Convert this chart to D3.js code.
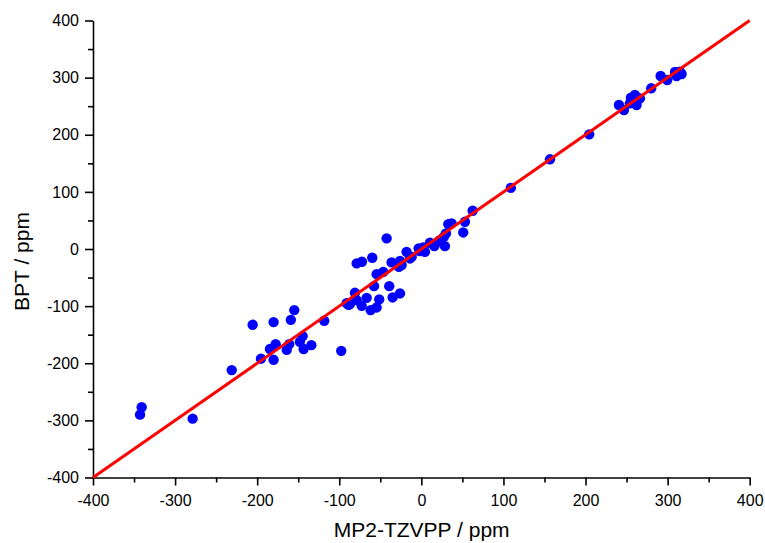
<!DOCTYPE html>
<html>
<head>
<meta charset="utf-8">
<script src="https://cdn.jsdelivr.net/npm/d3@7"></script>
<style>
  body { margin: 0; background: #fff; }
  text { font-family: Arial, "Liberation Sans", sans-serif; }
</style>
</head>
<body>
<svg id="chart" width="765" height="543"></svg>
<script>
// MP2-TZVPP (x) vs BPT (y), ppm
const mp2 = [
  -340.7, -342.7, -278.6, -231, -205.5, -180, -154.8, -159, -118.3, -88.6,
  -195.4, -180, -184.4, -177.5, -164, -161, -148, -144.6, -143.4, -134, -97.6,
  -42.3, -78.8, -72.4, -59.8, -36.2, -26, -18, -27.3, -11.8, -3.3, 2.3, 4.4,
  10.5, 15.7, 20.6, 27.5, 30, 28.7, 32.8, 36.9, 51, 53.1, 62.5,
  -54.5, -46.4, -57.7, -39.1, -80.9, -87, -78.8, -72.7, -66.6, -61.8, -54.5,
  -51.3, -35, -26, -91, -24, -13.8, 22.6, -1.7,
  204.5, 240.7, 246.8, 255.3, 260.2, 262.2, 266.3, 254, 280, 291.5, 299.5,
  310.9, 315, 317, 309, 156.7, 109
];
const bpt = [
  -277, -290, -297, -212, -132.7, -128, -107, -124, -125.7, -97.7,
  -192, -194, -175, -166.6, -176.5, -166.6, -162.5, -152.5, -175, -168.3, -178.3,
  18.6, -25.2, -22.4, -15.4, -23.5, -21, -5, -31.2, -13.7, 1, 2.8, -5,
  10.9, 5, 12.6, 21.4, 27.3, 5, 43.6, 44.8, 29, 47.6, 66.9,
  -44, -40, -65, -65, -76.7, -96.5, -89.5, -99.5, -85.5, -107, -102.3,
  -88.3, -84.8, -77.8, -95, -28, -16.5, 15.6, -3.7,
  200.7, 252, 243.3, 264.8, 269.5, 252, 263.7, 255, 281.3, 302.8, 295.8,
  302.8, 310.3, 306.3, 310, 157, 107
];
const xTicks = [-400, -300, -200, -100, 0, 100, 200, 300, 400];
const yTicks = [-400, -300, -200, -100, 0, 100, 200, 300, 400];
const fitLine = [[-400, -400], [400, 400]];

const points = mp2.map((v, i) => ({ x: v, y: bpt[i] }));

const svg = d3.select("#chart");
const mLeft = 93, mTop = 20.5, w = 656.7, h = 457;

const x = d3.scaleLinear().domain([-400, 400]).range([mLeft, mLeft + w]);
const y = d3.scaleLinear().domain([-400, 400]).range([mTop + h, mTop]);

// minor ticks halfway between majors
const xMinor = d3.range(-350, 400, 100);
const yMinor = d3.range(-350, 400, 100);

svg.append("g").attr("transform", `translate(0,${mTop + h})`)
  .call(d3.axisBottom(x).tickValues(xTicks).tickFormat(d3.format("d")).tickSize(8).tickPadding(9).tickSizeOuter(0));
svg.append("g").attr("transform", `translate(0,${mTop + h})`)
  .call(d3.axisBottom(x).tickValues(xMinor).tickFormat("").tickSize(5).tickSizeOuter(0))
  .select(".domain").remove();

svg.append("g").attr("transform", `translate(${mLeft},0)`)
  .call(d3.axisLeft(y).tickValues(yTicks).tickFormat(d3.format("d")).tickSize(8).tickPadding(6).tickSizeOuter(0));
svg.append("g").attr("transform", `translate(${mLeft},0)`)
  .call(d3.axisLeft(y).tickValues(yMinor).tickFormat("").tickSize(5).tickSizeOuter(0))
  .select(".domain").remove();

svg.selectAll(".domain, .tick line").attr("stroke", "#000").attr("stroke-width", 1.6);
svg.selectAll(".tick text").attr("font-size", 16).attr("fill", "#000")
  .text(function () { return d3.select(this).text().replace("\u2212", "-"); });

svg.append("g").selectAll("circle").data(points).join("circle")
  .attr("cx", d => x(d.x)).attr("cy", d => y(d.y)).attr("r", 5.2)
  .attr("fill", "#0000ff");

svg.append("path").datum(fitLine)
  .attr("d", d3.line().x(d => x(d[0])).y(d => y(d[1])))
  .attr("stroke", "#ff0000").attr("stroke-width", 3).attr("fill", "none");

svg.append("text").attr("x", 421.7).attr("y", 537)
  .attr("text-anchor", "middle").attr("font-size", 21).text("MP2-TZVPP / ppm");

svg.append("text").attr("transform", "translate(29,261.5) rotate(-90)")
  .attr("text-anchor", "middle").attr("font-size", 21).text("BPT / ppm");
</script>
</body>
</html>
